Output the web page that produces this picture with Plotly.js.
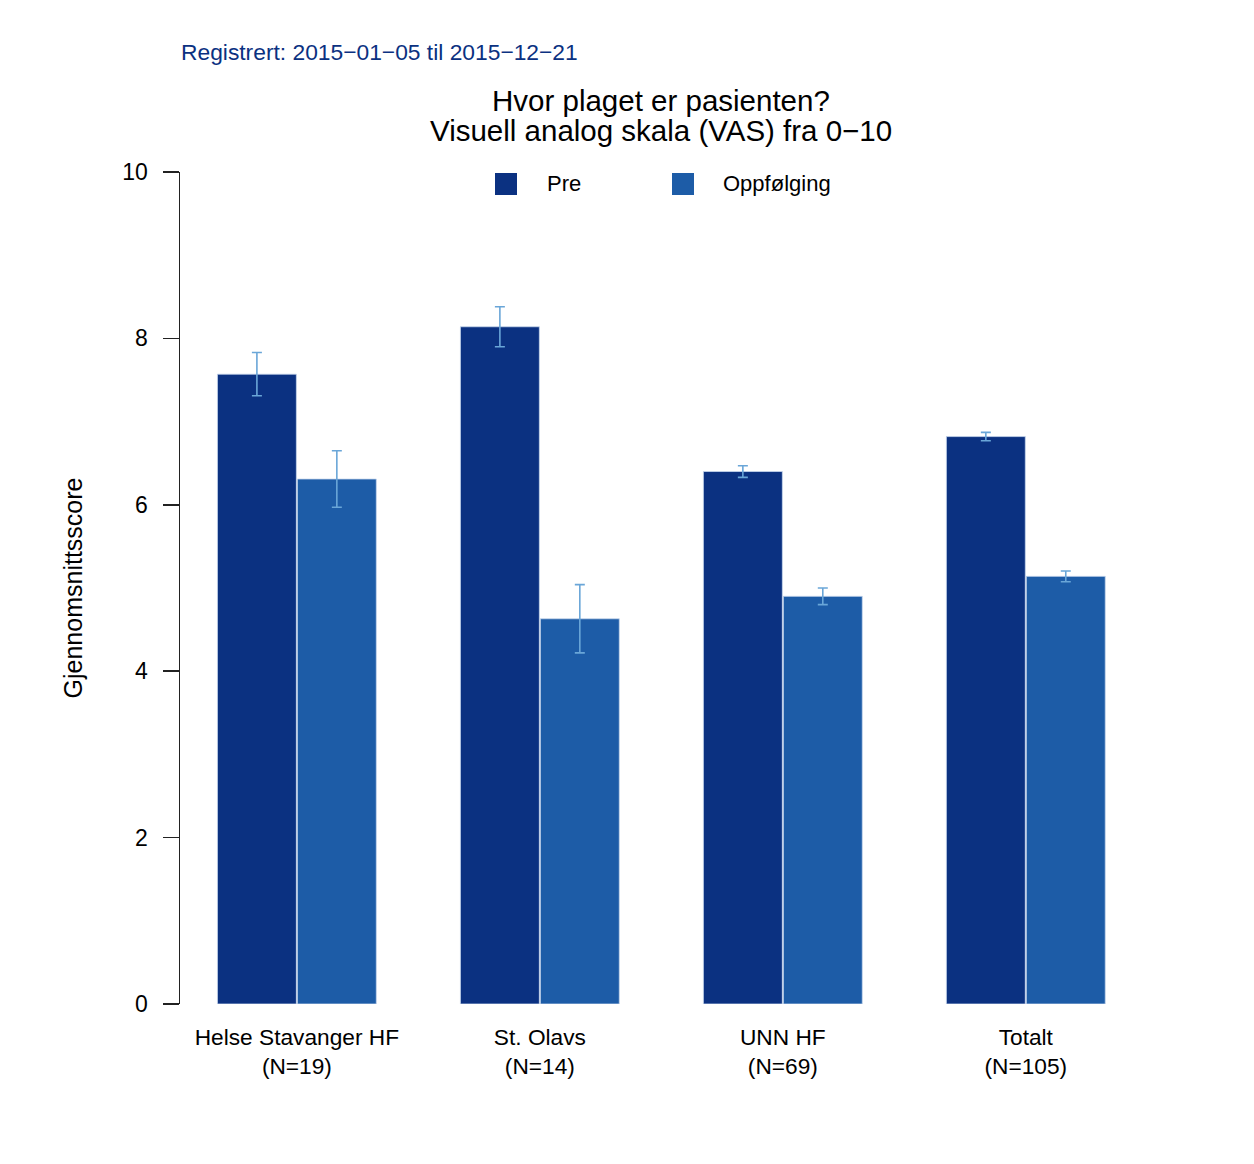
<!DOCTYPE html>
<html>
<head>
<meta charset="utf-8">
<script src="https://cdn.plot.ly/plotly-3.0.1.min.js"></script>
<style>html,body{margin:0;padding:0;background:#fff;}#chart{width:1254px;height:1164px;}</style>
</head>
<body>
<div id="chart"></div>
<script>
const categories = ["Helse Stavanger HF", "St. Olavs", "UNN HF", "Totalt"];
const nCounts = [19, 14, 69, 105];
const seriesNames = ["Pre", "Oppfølging"];
const preMean = [7.57, 8.14, 6.40, 6.82];
const preErr = [0.26, 0.24, 0.07, 0.05];
const oppMean = [6.31, 4.63, 4.90, 5.14];
const oppErr = [0.34, 0.41, 0.10, 0.065];
const yTicks = [0, 2, 4, 6, 8, 10];
const subtitleText = "Registrert: 2015\u221201\u221205 til 2015\u221212\u221221";
const titleLines = ["Hvor plaget er pasienten?", "Visuell analog skala (VAS) fra 0\u221210"];
const yTitle = "Gjennomsnittsscore";

const FONT = "Liberation Sans, Arial, Helvetica, sans-serif";
const colors = ["#0b3181", "#1d5ca7"];
const errColor = "#6aa6d8";
const xIdx = categories.map((c, i) => i);
const tickText = categories.map((c, i) => c + "<br>(N=" + nCounts[i] + ")");

function barTrace(name, y, err, color) {
  return {
    type: "bar", name: name, x: xIdx, y: y,
    marker: {color: color, line: {color: "#c9d8ee", width: 0.8}},
    error_y: {type: "data", array: err, visible: true, color: errColor, thickness: 1.6, width: 5},
    showlegend: false, hoverinfo: "skip"
  };
}
const data = [
  barTrace(seriesNames[0], preMean, preErr, colors[0]),
  barTrace(seriesNames[1], oppMean, oppErr, colors[1])
];

// plot area in pixels: left 180, right 1123, top 172, bottom 1004
const L = 180, R = 1123, T = 172, B = 1004;
const W = 1254, H = 1164;
const px = x => (x - L) / (R - L);
const py = y => (B - y) / (B - T);

const shapes = [];
const annotations = [];
// legend (drawn manually to match large square keys)
const legendSquares = [495, 672];
const legendTexts = [545, 721];
seriesNames.forEach((nm, i) => {
  shapes.push({type: "rect", xref: "paper", yref: "paper",
    x0: px(legendSquares[i]), x1: px(legendSquares[i] + 22),
    y0: py(195), y1: py(173), fillcolor: colors[i], line: {width: 0}});
  annotations.push({xref: "paper", yref: "paper", x: px(legendTexts[i]), y: py(184),
    xanchor: "left", yanchor: "middle", showarrow: false, text: nm,
    font: {family: FONT, size: 22, color: "#000"}});
});
annotations.push({xref: "paper", yref: "paper", x: px(661), y: py(101), xanchor: "center", yanchor: "middle",
  showarrow: false, text: titleLines[0], font: {family: FONT, size: 29.5, color: "#000"}});
annotations.push({xref: "paper", yref: "paper", x: px(661), y: py(131), xanchor: "center", yanchor: "middle",
  showarrow: false, text: titleLines[1], font: {family: FONT, size: 29.5, color: "#000"}});
annotations.push({xref: "paper", yref: "paper", x: px(179), y: py(52), xanchor: "left", yanchor: "middle",
  showarrow: false, text: subtitleText, font: {family: FONT, size: 22.8, color: "#0b3181"}});

const layout = {
  width: W, height: H,
  margin: {l: L, r: W - R, t: T, b: H - B, pad: 0},
  paper_bgcolor: "#fff", plot_bgcolor: "#fff",
  font: {family: FONT, color: "#000"},
  barmode: "group", bargap: 0.342, bargroupgap: 0.0125,
  showlegend: false,
  xaxis: {
    range: [-0.481, 3.4], tickmode: "array", tickvals: xIdx, ticktext: tickText,
    showline: false, showgrid: false, zeroline: false, ticks: "",
    ticklabelstandoff: 17,
    tickfont: {family: FONT, size: 22.7, color: "#000"}, fixedrange: true
  },
  yaxis: {
    range: [0, 10], tickmode: "array", tickvals: yTicks,
    showline: true, linecolor: "#222", linewidth: 1.5,
    ticks: "outside", ticklen: 16, tickwidth: 1.5, tickcolor: "#222",
    ticklabelstandoff: 10,
    showgrid: false, zeroline: false,
    tickfont: {family: FONT, size: 23, color: "#000"},
    title: {text: yTitle, font: {family: FONT, size: 25, color: "#000"}, standoff: 32},
    automargin: false
  },
  shapes: shapes,
  annotations: annotations
};
Plotly.newPlot("chart", data, layout, {staticPlot: true, displayModeBar: false});
</script>
</body>
</html>
